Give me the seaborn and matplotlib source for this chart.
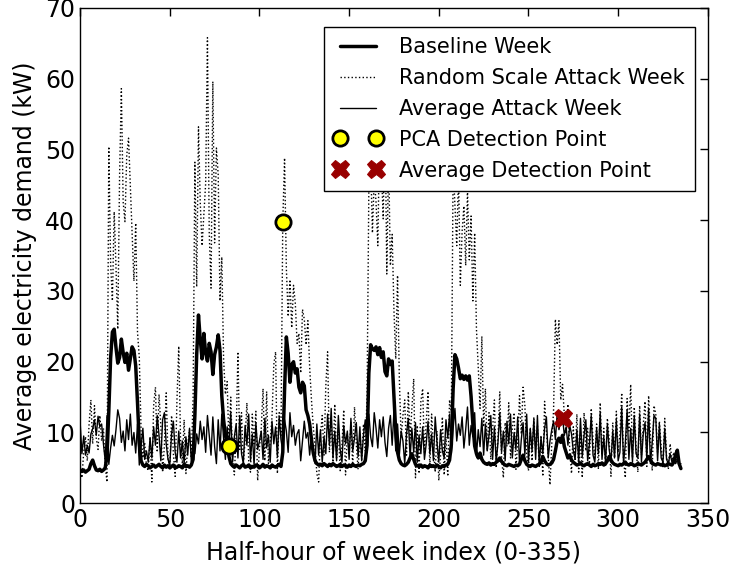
import numpy as np
import pandas as pd
import matplotlib
matplotlib.use("Agg")
import matplotlib.pyplot as plt
import seaborn as sns

# ---- data ----
baseline_week = [
    4.6, 4.5, 4.7, 4.4, 4.6, 4.8, 5.6, 6.1, 5.3, 4.7, 4.6, 4.8,
    4.5, 4.7, 5.0, 6.8, 13.0, 20.5, 24.2, 24.6, 22.0, 19.8, 20.6, 23.2,
    21.3, 19.9, 21.2, 18.8, 20.4, 22.1, 21.6, 19.4, 14.2, 8.6, 6.0, 5.4,
    5.2, 5.5, 5.3, 5.0, 5.2, 5.4, 5.1, 5.3, 5.5, 5.2, 5.0, 5.4,
    5.1, 5.3, 5.0, 5.2, 5.4, 5.0, 5.1, 5.3, 5.2, 5.0, 5.5, 5.2,
    5.3, 5.1, 5.4, 6.2, 12.5, 21.0, 26.6, 23.1, 20.4, 24.0, 21.2, 20.1,
    22.6, 21.4, 18.2, 21.0, 22.1, 23.8, 21.6, 15.2, 11.8, 9.6, 8.4, 6.6,
    5.6, 5.3, 5.1, 5.4, 5.2, 5.0, 5.3, 5.5, 5.1, 5.2, 5.4, 5.0,
    5.2, 5.1, 5.4, 5.3, 5.0, 5.2, 5.5, 5.1, 5.3, 5.2, 5.0, 5.4,
    5.2, 5.1, 5.3, 5.5, 5.2, 7.2, 16.0, 23.5, 21.2, 17.1, 19.6, 20.0,
    18.4, 19.0, 16.4, 15.6, 17.1, 16.6, 13.2, 12.4, 11.2, 9.0, 7.1, 6.0,
    5.6, 5.4, 5.5, 5.3, 5.6, 5.4, 5.2, 5.5, 5.3, 5.6, 5.4, 5.2,
    5.3, 5.5, 5.2, 5.4, 5.3, 5.1, 5.4, 5.2, 5.5, 5.3, 5.2, 5.4,
    5.3, 5.5, 5.6, 6.0, 8.2, 18.4, 22.4, 21.8, 21.6, 22.1, 21.0, 22.0,
    20.6, 21.4, 18.6, 18.0, 20.4, 19.6, 20.1, 15.2, 10.1, 7.2, 6.1, 5.6,
    5.4, 5.3, 5.5, 5.8, 6.4, 7.0, 6.2, 5.5, 5.3, 5.2, 5.4, 5.1,
    5.3, 5.2, 5.0, 5.4, 5.2, 5.3, 5.1, 5.4, 5.2, 5.0, 5.3, 5.2,
    5.4, 5.5, 6.1, 8.3, 16.2, 21.0, 20.4, 19.1, 17.6, 18.1, 17.5, 18.0,
    17.4, 18.0, 15.1, 11.2, 8.1, 7.0, 6.4, 7.1, 6.2, 5.8, 5.6, 5.5,
    5.7, 5.4, 5.6, 5.5, 5.8, 6.0, 6.4, 5.9, 5.6, 5.4, 5.3, 5.5,
    5.4, 5.3, 5.2, 5.4, 5.3, 5.5, 6.2, 6.8, 6.0, 5.5, 5.3, 5.2,
    5.4, 5.3, 5.2, 5.4, 5.5, 5.8, 6.6, 6.0, 5.6, 5.4, 5.5, 5.7,
    6.2, 7.4, 8.8, 9.2, 8.6, 9.6, 8.0, 7.2, 6.4, 6.8, 6.1, 5.8,
    5.6, 5.4, 5.5, 5.7, 5.4, 5.3, 5.5, 5.6, 5.4, 5.2, 5.5, 5.3,
    5.4, 5.6, 5.5, 5.7, 5.4, 5.6, 6.0, 6.6, 6.1, 5.7, 5.5, 5.4,
    5.3, 5.5, 5.4, 5.6, 5.8, 5.5, 5.4, 5.6, 5.5, 5.3, 5.4, 5.6,
    5.5, 5.4, 5.6, 5.8, 6.2, 6.6, 6.1, 5.7, 5.5, 5.4, 5.6, 5.5,
    5.4, 5.5, 5.3, 5.4, 5.6, 5.5, 5.4, 5.8, 6.8, 7.5, 5.6, 4.9,
]

random_scale_week = [
    5.5, 3.6, 7.2, 9.4, 6.0, 11.2, 14.6, 8.4, 13.8, 9.2, 7.6, 12.4,
    8.8, 10.6, 5.2, 3.0, 50.4, 34.0, 28.6, 41.2, 33.4, 24.6, 46.2, 58.6,
    42.6, 39.8, 49.2, 51.6, 45.0, 38.8, 31.4, 39.6, 24.2, 20.6, 10.2, 6.4,
    8.6, 5.2, 4.6, 9.4, 3.0, 13.8, 16.4, 7.2, 15.4, 11.0, 4.4, 8.2,
    15.6, 6.6, 4.8, 12.4, 7.0, 3.8, 14.6, 22.2, 9.0, 5.6, 11.8, 4.2,
    8.2, 10.4, 6.4, 14.8, 48.2, 30.6, 53.2, 42.4, 36.4, 40.8, 45.2, 65.8,
    38.2, 30.4, 59.6, 36.8, 50.2, 46.4, 28.6, 34.8, 20.4, 15.4, 17.2, 8.1,
    15.0, 6.2, 4.0, 9.8, 21.4, 7.6, 12.8, 5.4, 9.0, 14.2, 6.0, 4.4,
    12.6, 8.4, 13.0, 3.2, 7.8, 10.6, 16.2, 6.0, 15.8, 5.6, 8.8, 12.2,
    19.6, 21.4, 4.2, 12.8, 9.6, 39.7, 48.8, 33.2, 26.4, 31.6, 24.8, 30.8,
    28.2, 22.6, 24.0, 18.4, 27.4, 26.0, 22.4, 25.8, 19.2, 14.6, 10.8, 8.0,
    4.2, 3.0, 9.6, 12.4, 6.8, 16.6, 21.4, 7.2, 11.8, 5.8, 14.0, 6.4,
    10.4, 4.6, 8.2, 13.2, 4.0, 9.8, 7.0, 11.4, 5.2, 13.6, 8.4, 4.8,
    9.6, 6.2, 11.2, 7.4, 15.2, 44.6, 48.4, 38.2, 46.0, 42.6, 36.4, 52.6,
    47.4, 40.2, 55.8, 32.4, 49.0, 33.6, 38.0, 27.2, 20.4, 32.2, 17.6, 9.2,
    12.4, 14.6, 6.8, 15.8, 9.2, 13.4, 17.6, 3.6, 11.0, 4.2, 14.4, 16.2,
    7.2, 11.4, 15.8, 5.0, 12.6, 8.0, 4.4, 10.2, 3.2, 6.8, 12.2, 4.0,
    9.4, 3.8, 14.6, 12.8, 47.8, 42.2, 36.4, 46.6, 30.8, 38.4, 42.0, 33.6,
    44.2, 34.4, 40.6, 28.6, 38.2, 24.6, 19.2, 13.4, 23.6, 10.8, 16.2, 7.4,
    12.8, 6.2, 10.4, 14.6, 5.0, 9.2, 15.8, 6.6, 3.6, 11.4, 8.0, 14.2,
    6.4, 10.6, 12.8, 4.8, 8.6, 15.2, 9.8, 16.4, 13.8, 7.0, 4.6, 10.4,
    6.0, 12.2, 7.6, 11.0, 5.2, 9.6, 3.8, 14.4, 10.2, 6.8, 2.6, 8.4,
    13.2, 26.0, 22.4, 25.8, 14.6, 16.8, 12.4, 9.8, 14.0, 7.6, 4.2, 10.8,
    6.2, 12.6, 4.4, 9.6, 3.6, 12.8, 7.4, 10.6, 5.6, 13.4, 9.0, 6.2,
    11.2, 4.8, 14.2, 6.8, 10.6, 5.2, 12.0, 9.0, 3.8, 11.4, 6.4, 13.0,
    7.2, 9.8, 15.6, 6.2, 3.6, 14.8, 10.2, 16.8, 6.4, 13.6, 8.0, 4.4,
    13.8, 6.8, 11.0, 14.4, 5.2, 15.2, 9.6, 4.6, 13.8, 12.6, 7.2, 11.6,
    8.0, 5.0, 12.0, 6.6, 4.8, 8.4, 6.0, 7.2, 5.6, 6.4, 5.2, 5.0,
]

average_attack_week = [
    11.5, 7.0, 9.5, 6.8, 8.2, 7.1, 9.8, 10.5, 11.8, 9.6, 12.3, 10.8,
    11.2, 8.4, 6.0, 12.4, 5.5, 7.8, 9.6, 8.1, 10.4, 13.2, 12.0, 8.6,
    10.2, 7.4, 11.8, 9.0, 12.6, 8.2, 10.0, 7.1, 11.2, 5.4, 8.0, 10.6,
    6.2, 7.4, 5.8, 9.2, 6.4, 10.8, 8.2, 12.4, 9.6, 6.0, 11.8, 12.8,
    8.4, 6.2, 5.4, 9.8, 11.6, 7.2, 5.8, 10.2, 6.4, 8.8, 5.6, 9.4,
    6.8, 10.6, 5.9, 8.2, 7.0, 9.8, 8.4, 11.6, 9.0, 10.8, 7.2, 12.4,
    9.6, 6.8, 12.2, 8.0, 5.6, 11.8, 7.4, 12.6, 9.2, 6.2, 10.8, 7.6,
    12.8, 5.8, 9.4, 11.2, 6.4, 12.4, 7.0, 5.6, 11.0, 8.2, 12.6, 6.0,
    9.8, 5.4, 11.4, 7.6, 8.8, 10.2, 6.2, 12.0, 7.8, 9.6, 5.8, 11.6,
    8.4, 10.8, 6.6, 12.2, 9.0, 7.4, 11.8, 10.2, 7.2, 12.8, 9.4, 11.0,
    8.2, 9.8, 10.4, 6.0, 8.8, 11.6, 9.2, 10.0, 6.8, 9.6, 7.4, 5.6,
    11.2, 6.8, 10.4, 5.8, 9.4, 7.0, 12.6, 8.2, 13.4, 6.4, 10.2, 6.0,
    12.4, 7.6, 5.8, 11.0, 8.4, 10.2, 6.2, 12.0, 7.4, 9.2, 11.4, 6.6,
    10.8, 6.0, 9.6, 11.8, 7.2, 12.6, 9.4, 8.0, 12.8, 10.6, 7.8, 11.8,
    9.4, 12.2, 8.6, 6.6, 10.6, 12.4, 8.2, 13.0, 7.4, 11.2, 6.8, 10.2,
    8.8, 5.6, 9.8, 12.0, 6.4, 10.6, 7.2, 11.4, 5.8, 9.6, 7.0, 10.8,
    6.2, 8.4, 11.6, 7.0, 9.8, 6.0, 12.2, 8.6, 5.8, 10.4, 7.4, 6.4,
    11.8, 9.2, 12.6, 7.0, 10.6, 13.4, 8.8, 11.2, 9.6, 12.2, 7.8, 10.4,
    13.6, 8.2, 11.0, 9.4, 12.8, 6.6, 10.4, 8.0, 12.0, 6.8, 11.2, 7.4,
    9.6, 12.4, 6.2, 10.8, 5.8, 8.6, 12.8, 7.2, 10.2, 6.0, 11.6, 8.4,
    12.6, 6.4, 10.0, 7.6, 12.2, 5.6, 9.0, 11.4, 6.8, 12.6, 5.8, 10.6,
    7.4, 11.8, 6.2, 12.4, 5.4, 9.2, 7.0, 10.6, 12.2, 6.4, 8.8, 10.4,
    11.6, 9.0, 12.6, 10.4, 11.8, 12.1, 9.6, 10.8, 8.2, 11.0, 9.8, 7.4,
    6.2, 10.4, 5.8, 12.0, 6.6, 9.6, 11.8, 6.0, 8.4, 12.4, 6.8, 5.8,
    10.6, 7.0, 12.8, 6.2, 9.4, 5.6, 11.2, 7.6, 5.8, 10.2, 6.4, 11.8,
    6.0, 7.2, 13.6, 5.6, 8.4, 13.2, 6.2, 10.6, 5.8, 12.4, 7.0, 6.4,
    12.6, 5.8, 9.8, 11.4, 6.2, 13.4, 5.6, 8.6, 12.4, 12.0, 6.0, 11.2,
    6.4, 5.8, 10.6, 6.2, 5.6, 7.0, 5.8, 6.4, 5.6, 6.2, 5.4, 5.6,
]

pca_x = [83, 113]
pca_y = [8.1, 39.7]
avg_det_x = [269]
avg_det_y = [12.1]

half_hours = np.arange(len(baseline_week))

sns.set_style("white")
plt.rcParams["font.family"] = ["DejaVu Sans"]
plt.rcParams["text.color"] = "black"
plt.rcParams["axes.labelcolor"] = "black"
plt.rcParams["xtick.color"] = "black"
plt.rcParams["ytick.color"] = "black"
plt.rcParams["xtick.direction"] = "in"
plt.rcParams["ytick.direction"] = "in"
plt.rcParams["xtick.top"] = True
plt.rcParams["ytick.right"] = True

fig = plt.figure(figsize=(7.35, 5.68), dpi=100)
ax = fig.add_axes([0.109, 0.114, 0.854, 0.872])

sns.lineplot(x=half_hours, y=baseline_week, ax=ax, color="black", linewidth=2.5,
             label="Baseline Week")
sns.lineplot(x=half_hours, y=random_scale_week, ax=ax, color="black", linewidth=1.0,
             linestyle=":", label="Random Scale Attack Week")
sns.lineplot(x=half_hours, y=average_attack_week, ax=ax, color="black", linewidth=1.0,
             label="Average Attack Week")
sns.lineplot(x=pca_x, y=pca_y, ax=ax, linestyle="none", marker="o", markersize=11,
             markerfacecolor="yellow", markeredgecolor="black", markeredgewidth=2,
             label="PCA Detection Point")
sns.lineplot(x=avg_det_x, y=avg_det_y, ax=ax, linestyle="none", marker="X", markersize=13,
             markerfacecolor="#990000", markeredgecolor="#990000", color="#990000",
             label="Average Detection Point")

ax.set_xlim(0, 350)
ax.set_ylim(0, 70)
ax.set_xticks(range(0, 351, 50))
ax.set_yticks(range(0, 71, 10))
ax.tick_params(axis="both", which="major", labelsize=17, length=6, width=1, color="black",
               labelcolor="black")
for s in ax.spines.values():
    s.set_color("black")
    s.set_linewidth(1)

ax.set_xlabel("Half-hour of week index (0-335)", fontsize=17, color="black", labelpad=6)
ax.set_ylabel("Average electricity demand (kW)", fontsize=17, color="black", labelpad=6)

leg = ax.legend(loc="upper right", bbox_to_anchor=(0.979, 0.962), fontsize=15,
                numpoints=2, fancybox=False, framealpha=1, edgecolor="black",
                handlelength=2.3, labelspacing=0.52, borderpad=0.5, borderaxespad=0)
leg.get_frame().set_linewidth(1)
for t in leg.get_texts():
    t.set_color("black")

fig.savefig("out.png", dpi=100)
